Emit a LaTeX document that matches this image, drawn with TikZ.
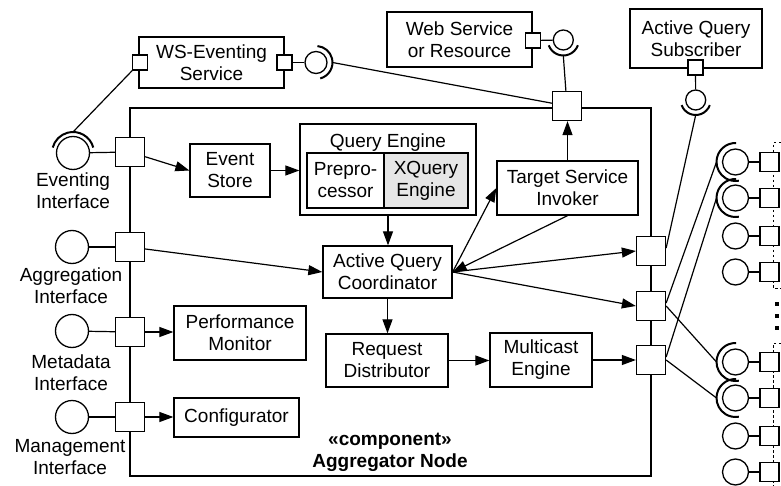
\documentclass[tikz,border=0pt]{standalone}
\usepackage{fontspec}
\setmainfont{Liberation Sans}
\usetikzlibrary{arrows.meta,calc}
\begin{document}
\begin{tikzpicture}[x=1pt,y=1pt,
  every node/.style={font=\fontsize{19}{22}\selectfont},
  box/.style={draw, line width=1.3pt, align=center, inner sep=0pt, fill=white},
  port/.style={draw, line width=1.3pt, fill=white, minimum size=29pt, inner sep=0pt},
  sport/.style={draw, line width=1.3pt, fill=white, minimum size=15pt, inner sep=0pt},
  rport/.style={draw, line width=1.3pt, fill=white, minimum size=19pt, inner sep=0pt},
  iface/.style={circle, draw, line width=1.3pt, fill=white, inner sep=0pt},
  sock/.style={line width=2pt},
  conn/.style={line width=1.2pt},
  arr/.style={line width=1.2pt, -{Triangle[length=14pt,width=10pt]}},
  lbl/.style={align=center, inner sep=0pt},
  dsh/.style={line width=1pt, dash pattern=on 2.5pt off 2.5pt},
]
\useasboundingbox (0,0) rectangle (781,-486);

% component border
\draw[line width=1.3pt] (130,-108) rectangle (651,-476);

% left interfaces
\node[port] (pE) at (130,-152) {};
\node[port] (pA) at (130,-247) {};
\node[port] (pM) at (130,-332) {};
\node[port] (pG) at (130,-417) {};
\node[iface, minimum size=33pt] (cE) at (73,-153) {};
\node[iface, minimum size=33pt] (cA) at (72,-247) {};
\node[iface, minimum size=33pt] (cM) at (72,-331) {};
\node[iface, minimum size=33pt] (cG) at (72,-417) {};
\draw[conn] (cE) -- (pE);
\draw[conn] (cA) -- (pA);
\draw[conn] (cM) -- (pM);
\draw[conn] (cG) -- (pG);
\draw[sock] (73,-153) ++(15:21) arc[start angle=15, end angle=165, radius=21];
\coordinate (sE) at (73,-132);
\node[lbl] (lE) at (73,-191) {Eventing\\Interface};
\node[lbl] (lA) at (71,-286) {Aggregation\\Interface};
\node[lbl] (lM) at (71,-372.5) {Metadata\\Interface};
\node[lbl] (lG) at (70,-457.5) {Management\\Interface};

% top port
\node[port] (pT) at (567,-106) {};

% WS-Eventing Service
\node[box, minimum width=145pt, minimum height=51pt] (ws) at (211.5,-62.5) {WS-Eventing\\Service};
\node[sport] (wsL) at (140,-62.5) {};
\node[sport] (wsR) at (284.5,-62.5) {};
\node[iface, minimum size=22pt] (cW) at (316,-62.5) {};
\draw[conn] (wsR) -- (cW);
\draw[sock] (316,-62.5) ++(-75:16.5) arc[start angle=-75, end angle=85, radius=16.5];
\coordinate (sW) at (332.5,-62.5);
\draw[conn] (sE) -- (wsL);
\draw[conn] (sW) -- (pT);

% Web Service or Resource
\node[box, minimum width=145pt, minimum height=55pt] (web) at (459.5,-39.5) {Web Service\\or Resource};
\node[sport] (webP) at (533,-40.5) {};
\node[iface, minimum size=20pt] (cWeb) at (563.3,-40) {};
\draw[conn] (webP) -- (cWeb);
\draw[sock] (563.3,-40) ++(200:15.5) arc[start angle=200, end angle=340, radius=15.5];
\coordinate (sWeb) at (563.3,-55.5);
\draw[conn] (sWeb) -- (pT);

% Active Query Subscriber
\node[box, minimum width=132pt, minimum height=59pt] (aqs) at (696,-38.5) {Active Query\\Subscriber};
\node[sport] (aqsP) at (695.5,-67.5) {};
\node[iface, minimum size=20pt] (cAq) at (695.7,-100) {};
\draw[conn] (aqsP) -- (cAq);
\draw[sock] (695.7,-100) ++(200:15) arc[start angle=200, end angle=340, radius=15];
\coordinate (sAq) at (695.7,-115);

% internal boxes
\node[box, minimum width=80pt, minimum height=53pt] (es) at (230,-170.5) {Event\\Store};
\node[box, minimum width=176pt, minimum height=91pt] (qe) at (388,-169.5) {};
\node[lbl] (qet) at (388,-143) {Query Engine};
\node[box, minimum width=77pt, minimum height=55pt] (pre) at (345.5,-180.5) {Prepro-\\cessor};
\node[box, fill={rgb,255:red,230;green,230;blue,230}, minimum width=84pt, minimum height=55pt] (xq) at (426,-180.5) {XQuery\\Engine};
\node[box, minimum width=129pt, minimum height=52pt] (aqc) at (387.5,-272) {Active Query\\Coordinator};
\node[box, minimum width=141pt, minimum height=54pt] (tsi) at (567.5,-188) {Target Service\\Invoker};
\node[box, minimum width=132pt, minimum height=54pt] (pm) at (240,-333) {Performance\\Monitor};
\node[box, minimum width=125pt, minimum height=39pt] (cfg) at (236.5,-417.5) {Configurator};
\node[box, minimum width=122pt, minimum height=53pt] (rd) at (387,-360.5) {Request\\Distributor};
\node[box, minimum width=102pt, minimum height=54pt] (me) at (541,-360) {Multicast\\Engine};
\node[lbl, font=\fontsize{19}{22}\selectfont\bfseries] (cmp) at (390,-452) {«component»\\Aggregator Node};

% right ports
\node[port] (sq1) at (651,-251) {};
\node[port] (sq2) at (651,-306) {};
\node[port] (sq3) at (651,-360) {};

% arrows
\draw[arr] (pE) -- (es.west);
\draw[arr] (es.east) -- (es.east -| qe.west);
\draw[arr] (qe.south) -- (qe.south |- aqc.north);
\draw[arr] (pA) -- (aqc.west);
\draw[arr] (aqc.east) -- (tsi.west);
\draw[arr] (tsi.south) -- (aqc.east);
\draw[arr] (tsi.north) -- (tsi.north |- pT.south);
\draw[arr] (aqc.east) -- (sq1.west);
\draw[arr] (aqc.east) -- (sq2.west);
\draw[arr] (aqc.south) -- (aqc.south |- rd.north);
\draw[arr] (rd.east) -- (rd.east -| me.west);
\draw[arr] (me.east) -- (me.east -| sq3.west);
\draw[arr] (pM) -- (pM -| pm.west);
\draw[arr] (pG) -- (pG -| cfg.west);

% right external group
\draw[dsh] (781,-143) -- (773,-143) -- (773,-288) -- (781,-288);
\draw[dsh] (781,-343) -- (773,-343) -- (773,-486);
\foreach \i/\y in {1/162,2/198,3/236,4/272,5/362,6/398,7/436,8/472}{
  \node[iface, minimum size=26pt] (rc\i) at (735.5,-\y) {};
  \node[rport] (rs\i) at (769.5,-\y) {};
  \draw[conn] (rc\i) -- (rs\i);
}
\foreach \i/\y in {1/162,2/198,5/362,6/398}{
  \draw[sock] (735.5,-\y) ++(88:19) arc[start angle=88, end angle=280, radius=19];
  \coordinate (rk\i) at (716.5,-\y);
}
\foreach \y in {304,316,328}{
  \fill (775,-\y+2) rectangle ++(4,-4);
}

% external connections
\draw[conn] (sAq) -- ([yshift=3pt]sq1.east);
\draw[conn] ([yshift=3pt]sq2.east) -- (rk1);
\draw[conn] ([yshift=3pt]sq3.east) -- (rk2);
\draw[conn] (sq2.east) -- (rk5);
\draw[conn] (sq3.east) -- (rk6);
\end{tikzpicture}
\end{document}
